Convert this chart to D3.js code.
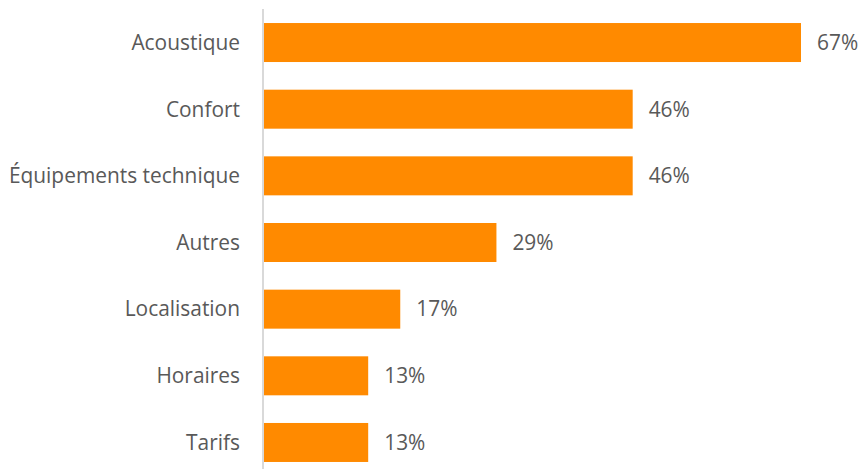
<!DOCTYPE html>
<html>
<head>
<meta charset="utf-8">
<script src="https://cdn.jsdelivr.net/npm/d3@7"></script>
<style>
  html, body { margin: 0; padding: 0; background: #fff; }
  svg text { font-family: "Open Sans", "Noto Sans", sans-serif; fill: #595959; }
</style>
</head>
<body>
<svg id="chart" width="862" height="469"></svg>
<script>
// Categories (top to bottom) and their percentages
const categories = ["Acoustique", "Confort", "Équipements technique", "Autres", "Localisation", "Horaires", "Tarifs"];
const values = [67, 46, 46, 29, 17, 13, 13];

const svg = d3.select("#chart");
const x0 = 264;

const x = d3.scaleLinear().domain([0, 67]).range([x0, 801]);
const y = d3.scaleBand().domain(categories).range([9.2, 475.8]).paddingInner(0.415).paddingOuter(0.2075);

const data = categories.map((c, i) => ({ c, v: values[i] }));

svg.selectAll("rect.bar").data(data).join("rect")
  .attr("class", "bar")
  .attr("x", x0)
  .attr("y", d => y(d.c))
  .attr("width", d => x(d.v) - x0)
  .attr("height", y.bandwidth())
  .attr("fill", "#FF8A00");

// vertical category axis
svg.append("line")
  .attr("x1", 263).attr("x2", 263)
  .attr("y1", 9).attr("y2", 469)
  .attr("stroke", "#d9d9d9").attr("stroke-width", 2);

svg.selectAll("text.cat").data(data).join("text")
  .attr("class", "cat")
  .attr("x", 240)
  .attr("y", d => y(d.c) + y.bandwidth() / 2)
  .attr("dy", "0.35em")
  .attr("text-anchor", "end")
  .attr("font-size", 20.9)
  .text(d => d.c);

svg.selectAll("text.val").data(data).join("text")
  .attr("class", "val")
  .attr("x", d => x(d.v) + 16)
  .attr("y", d => y(d.c) + y.bandwidth() / 2)
  .attr("dy", "0.35em")
  .attr("font-size", 20.9)
  .text(d => d.v + "%");
</script>
</body>
</html>
